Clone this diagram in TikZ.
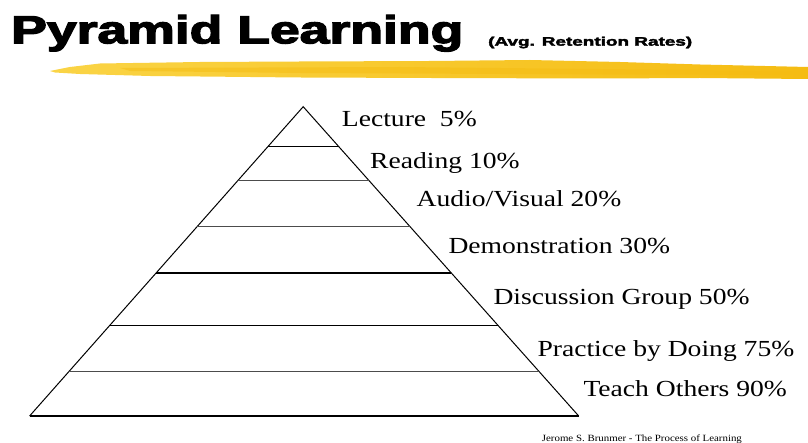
\documentclass[tikz,border=0pt]{standalone}
\usepackage{fontspec}
\usepackage{graphicx}
\usetikzlibrary{calc}
\setmainfont{Liberation Serif}
\newfontfamily\labfont[FakeStretch=1.2]{Liberation Serif}
\newfontfamily\titlefont[FakeBold=3]{Liberation Sans}
\newfontfamily\subfont[FakeBold=2.5]{Liberation Sans}
\definecolor{brushA}{RGB}{250,212,70}
\definecolor{brushB}{RGB}{245,188,18}
\begin{document}
\begin{tikzpicture}[x=1pt,y=-1pt,
  lab/.style={anchor=base west, inner sep=0pt, font=\labfont\fontsize{23}{23}\selectfont},
  side/.style={line width=1pt, black},
  thicklevel/.style={line width=1.6pt, black},
  thinlevel/.style={line width=0.9pt, black!70}]
\path[use as bounding box] (0,0) rectangle (808,443);
\fill[white] (0,0) rectangle (808,443);
% brush stroke
\shade[left color=brushA, right color=brushB]
  (50,71) -- (70,67) -- (100,63.5) -- (200,62) -- (300,61.5) -- (430,61) -- (530,60)
  -- (620,62) -- (700,64.5) -- (808,67) -- (808,79) -- (700,78) -- (600,78.5)
  -- (430,78) -- (300,77.5) -- (150,76) -- (80,74) -- (55,72.5) -- cycle;
\fill[brushB, opacity=0.5] (120,68) -- (400,67) -- (700,70) -- (808,72) -- (808,75) -- (600,74.5) -- (300,73) -- (130,71) -- cycle;
% titles
\node[anchor=base west, inner sep=0pt] (title) at (11,43.3)
  {\resizebox{452pt}{28.3pt}{\titlefont\bfseries Pyramid Learning}};
\node[anchor=base west, inner sep=0pt] (sub) at (488,45.7)
  {\resizebox{204pt}{9pt}{\subfont\bfseries (Avg. Retention Rates)}};
% pyramid
\coordinate (apex) at (303.2,106.7);
\coordinate (bl) at (29.6,416);
\coordinate (br) at (578.7,416);
\draw[side, line join=miter] (bl) -- (apex) -- (br);
\draw[line width=1.2pt] (bl) -- (br);
\foreach \t/\s in {0.1293/thicklevel, 0.2393/thinlevel, 0.388/thinlevel,
                   0.5377/thicklevel, 0.7068/thicklevel, 0.8568/thinlevel} {
  \draw[\s] ($(apex)!\t!(bl)$) -- ($(apex)!\t!(br)$);
}
% labels
\node[lab] (l1) at (341.7,126.7) {Lecture\ \ 5\%};
\node[lab] (l2) at (370,168.3) {Reading 10\%};
\node[lab] (l3) at (416.5,206.7) {Audio/Visual 20\%};
\node[lab] (l4) at (448.3,253.3) {Demonstration 30\%};
\node[lab] (l5) at (493.3,305) {Discussion Group 50\%};
\node[lab] (l6) at (537.3,356.7) {Practice by Doing 75\%};
\node[lab] (l7) at (583.3,396.7) {Teach Others 90\%};
% source
\node[anchor=base west, inner sep=0pt] (src) at (541.7,441)
  {\resizebox{200pt}{6.7pt}{Jerome S. Brunmer - The Process of Learning}};
\end{tikzpicture}
\end{document}
